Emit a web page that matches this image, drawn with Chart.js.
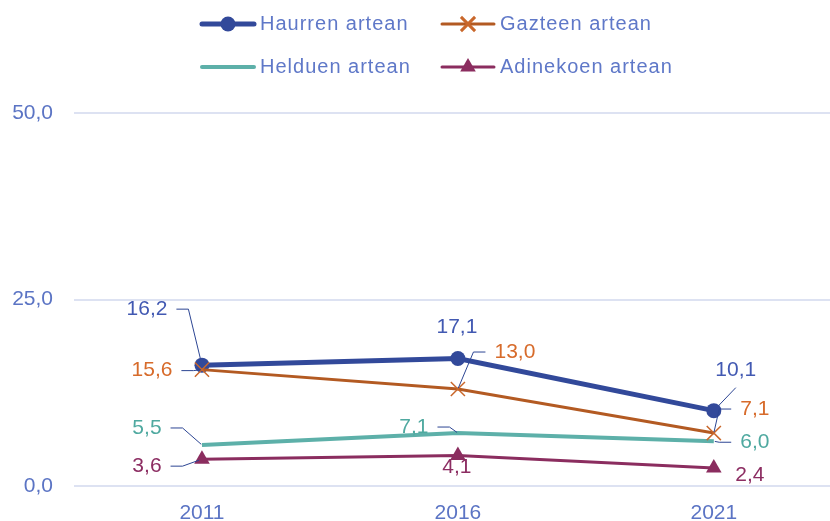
<!DOCTYPE html>
<html>
<head>
<meta charset="utf-8">
<script src="https://cdn.jsdelivr.net/npm/chart.js@4/dist/chart.umd.min.js"></script>
<style>
  html, body { margin: 0; padding: 0; background: #fff; }
  #wrap { width: 830px; height: 521px; }
</style>
</head>
<body>
<div id="wrap"><canvas id="chart"></canvas></div>
<script>
// data
const years = [2011, 2016, 2021]
const haurren = [16.2, 17.1, 10.1]
const gazteen = [15.6, 13.0, 7.1]
const helduen = [5.5, 7.1, 6.0]
const adinekoen = [3.6, 4.1, 2.4]
const yTicks = [0, 25, 50]
const names = ['Haurren artean', 'Gazteen artean', 'Helduen artean', 'Adinekoen artean']

// label placement: [dx, dy, leader type] relative to each point
const labelOffsets = [
  [[-55, -56, 1], [-1, -31, 0], [22, -40, 2]],
  [[-50, 1, 1], [57, -37, 1], [41, -24, 1]],
  [[-55, -17, 1], [-44, -6, 1], [41, 1, 1]],
  [[-55, 7, 1], [-1, 12, 0], [36, 7, 0]]
]
const labelColors = ['#4259b2', '#d76b2b', '#4fa9a0', '#8c2d62']
const leaderColor = '#2c4593'
const leaderGap = [7, 1, 1, 3]
const axisColor = '#5b74c4'
const FONT = "'Liberation Sans', Arial, sans-serif"

const fmt = v => v.toFixed(1).replace('.', ',')
const pts = arr => arr.map((v, i) => ({ x: years[i], y: v }))

const dataLabels = {
  id: 'dataLabels',
  afterDatasetsDraw(chart) {
    const ctx = chart.ctx
    ctx.save()
    ctx.font = '21px ' + FONT
    ctx.textAlign = 'center'
    ctx.textBaseline = 'middle'
    chart.data.datasets.forEach((ds, di) => {
      const meta = chart.getDatasetMeta(di)
      meta.data.forEach((p, i) => {
        const [dx, dy, type] = labelOffsets[di][i]
        const txt = fmt(ds.data[i].y)
        const tw = ctx.measureText(txt).width
        const tx = p.x + dx, ty = p.y + dy
        if (type) {
          let sx, sy, ex, ey
          if (type === 1) {
            sx = dx < 0 ? tx + tw / 2 + 9 : tx - tw / 2 - 9
            sy = ty
            ex = sx + (dx < 0 ? 12 : -12)
            ey = ty
          } else {
            sx = ex = tx
            sy = ey = ty + 17
          }
          const vx = p.x - ex, vy = p.y - ey
          const len = Math.hypot(vx, vy) || 1
          const g = Math.min(leaderGap[di], len)
          ctx.beginPath()
          ctx.strokeStyle = leaderColor
          ctx.lineWidth = 1
          ctx.moveTo(sx, sy)
          ctx.lineTo(ex, ey)
          ctx.lineTo(p.x - vx / len * g, p.y - vy / len * g)
          ctx.stroke()
        }
        ctx.fillStyle = labelColors[di]
        ctx.fillText(txt, tx, ty)
      })
    })
    ctx.restore()
  }
}

// legend in two rows of two, line sample with marker
const legendX = [200, 440]
const legendY = [24, 67]
const gridLegend = {
  id: 'gridLegend',
  afterDraw(chart) {
    const ctx = chart.ctx
    ctx.save()
    chart.data.datasets.forEach((ds, i) => {
      const x0 = legendX[i % 2], y = legendY[Math.floor(i / 2)]
      ctx.beginPath()
      ctx.strokeStyle = ds.borderColor
      ctx.lineWidth = ds.borderWidth
      ctx.lineCap = 'round'
      ctx.moveTo(x0 + 2, y)
      ctx.lineTo(x0 + 54, y)
      ctx.stroke()
      if (ds.pointRadius > 0) {
        ctx.fillStyle = ds.pointBackgroundColor
        ctx.strokeStyle = ds.pointBorderColor
        ctx.lineCap = 'butt'
        Chart.helpers.drawPoint(ctx, {
          pointStyle: ds.pointStyle, radius: ds.pointRadius, rotation: 0, borderWidth: ds.pointBorderWidth
        }, x0 + 28, y)
      }
      ctx.font = '20px ' + FONT
      ctx.letterSpacing = '1px'
      ctx.fillStyle = '#5f78c8'
      ctx.textBaseline = 'middle'
      ctx.textAlign = 'left'
      ctx.fillText(ds.label, x0 + 60, y)
    })
    ctx.restore()
  }
}

new Chart(document.getElementById('chart'), {
  type: 'line',
  data: {
    datasets: [{
      label: names[0],
      data: pts(haurren),
      borderColor: '#32499a',
      borderWidth: 5,
      pointStyle: 'circle',
      pointRadius: 7.5,
      pointBackgroundColor: '#32499a',
      pointBorderColor: '#32499a',
      pointBorderWidth: 0,
      order: 2
    }, {
      label: names[1],
      data: pts(gazteen),
      borderColor: '#b35a22',
      borderWidth: 3,
      pointStyle: 'crossRot',
      pointRadius: 10,
      pointBackgroundColor: '#c9672b',
      pointBorderColor: '#c9672b',
      pointBorderWidth: 1.5,
      order: 1
    }, {
      label: names[2],
      data: pts(helduen),
      borderColor: '#5db0a9',
      borderWidth: 4,
      pointRadius: 0,
      order: 3
    }, {
      label: names[3],
      data: pts(adinekoen),
      borderColor: '#8b2d5f',
      borderWidth: 3,
      pointStyle: 'triangle',
      pointRadius: 9,
      pointBackgroundColor: '#8b2d5f',
      pointBorderColor: '#8b2d5f',
      pointBorderWidth: 0,
      order: 4
    }]
  },
  options: {
    responsive: true,
    maintainAspectRatio: false,
    animation: false,
    clip: false,
    layout: { autoPadding: false, padding: { top: 113, left: 0, right: 0, bottom: 0 } },
    elements: { line: { tension: 0 } },
    plugins: {
      legend: { display: false },
      tooltip: { enabled: false }
    },
    scales: {
      x: {
        type: 'linear',
        min: 2008.5,
        max: 2023.27,
        afterBuildTicks: axis => { axis.ticks = years.map(v => ({ value: v })) },
        afterFit: axis => { axis.height = 35 },
        grid: { display: false, drawTicks: false },
        border: { display: false },
        ticks: {
          color: axisColor,
          padding: 17,
          font: { family: FONT, size: 21, lineHeight: 1 },
          callback: v => String(v)
        }
      },
      y: {
        min: 0,
        max: 50,
        afterBuildTicks: axis => { axis.ticks = yTicks.map(v => ({ value: v })) },
        afterFit: axis => { axis.width = 74 },
        grid: { color: '#dde2f2', lineWidth: 2, drawTicks: false },
        border: { display: false },
        ticks: {
          color: axisColor,
          padding: 21,
          font: { family: FONT, size: 21 },
          callback: v => fmt(v)
        }
      }
    }
  },
  plugins: [dataLabels, gridLegend]
})
</script>
</body>
</html>
